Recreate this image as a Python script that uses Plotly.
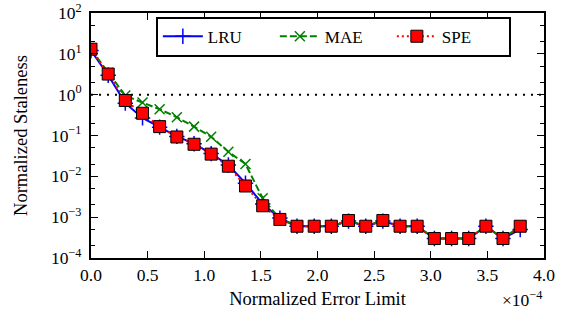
import plotly.graph_objects as go

# x in units of 1e-4
error_limit = [0.0, 0.152, 0.303, 0.455, 0.606, 0.758, 0.910, 1.061, 1.213, 1.364,
               1.516, 1.668, 1.819, 1.971, 2.122, 2.274, 2.426, 2.577, 2.729, 2.880,
               3.032, 3.184, 3.335, 3.487, 3.638, 3.790]

lru = [12, 3.0, 0.62, 0.27, 0.16, 0.095, 0.063, 0.036, 0.019, 0.0068,
       0.0021, 0.00095, 0.0006, 0.0006, 0.0006, 0.0008, 0.0006, 0.0008, 0.0006, 0.0006,
       0.0003, 0.0003, 0.0003, 0.0006, 0.0003, 0.0005]

mae = [13, 3.4, 0.95, 0.64, 0.44, 0.28, 0.165, 0.093, 0.040, 0.020,
       0.0029, 0.0009, 0.0006, 0.0006, 0.0006, 0.00083, 0.0006, 0.00083, 0.0006, 0.0006,
       0.0003, 0.0003, 0.0003, 0.0006, 0.0003, 0.0006]

spe = [13, 3.2, 0.72, 0.35, 0.165, 0.092, 0.061, 0.035, 0.0177, 0.0058,
       0.0019, 0.00088, 0.0006, 0.0006, 0.0006, 0.00083, 0.0006, 0.00083, 0.0006, 0.0006,
       0.0003, 0.0003, 0.0003, 0.0006, 0.0003, 0.0006]

x_ticks = [0.0, 0.5, 1.0, 1.5, 2.0, 2.5, 3.0, 3.5, 4.0]
x_tick_labels = ["0.0", "0.5", "1.0", "1.5", "2.0", "2.5", "3.0", "3.5", "4.0"]
y_ticks = [1e-4, 1e-3, 1e-2, 1e-1, 1e0, 1e1, 1e2]
y_tick_labels = ["10<sup>\u22124</sup>", "10<sup>\u22123</sup>", "10<sup>\u22122</sup>",
                 "10<sup>\u22121</sup>", "10<sup>0</sup>", "10<sup>1</sup>", "10<sup>2</sup>"]

FONT = "Liberation Serif, Times New Roman, serif"

fig = go.Figure()

# reference line at 1
fig.add_trace(go.Scatter(x=[0, 4], y=[1, 1], mode="lines",
                         line=dict(color="black", width=2, dash="2px,6px"),
                         showlegend=False, hoverinfo="skip"))

fig.add_trace(go.Scatter(x=error_limit, y=lru, name="LRU", mode="lines+markers",
                         line=dict(color="blue", width=2),
                         marker=dict(symbol="cross-thin-open", size=11,
                                     line=dict(color="blue", width=1.5))))
fig.add_trace(go.Scatter(x=error_limit, y=mae, name="MAE", mode="lines+markers",
                         line=dict(color="green", width=2, dash="7px,3px"),
                         marker=dict(symbol="x-thin-open", size=10,
                                     line=dict(color="green", width=1.5))))
fig.add_trace(go.Scatter(x=error_limit, y=spe, name="SPE", mode="lines+markers",
                         line=dict(color="red", width=2, dash="2px,3px"),
                         marker=dict(symbol="square", size=12, color="red",
                                     line=dict(color="black", width=1))))

fig.update_layout(
    width=569, height=320,
    margin=dict(l=91, r=25, t=13, b=62, autoexpand=False),
    paper_bgcolor="white", plot_bgcolor="white",
    font=dict(family=FONT, size=18, color="black"),
    legend=dict(orientation="h", x=0.535, xanchor="center", y=0.985, yanchor="top",
                bordercolor="black", borderwidth=2, bgcolor="white",
                font=dict(size=17), itemwidth=40, entrywidth=62,
                entrywidthmode="pixels", tracegroupgap=0),
    showlegend=True,
)

fig.update_xaxes(range=[0, 4], tickvals=x_ticks, ticktext=x_tick_labels,
                 ticks="inside", ticklen=7, tickwidth=1, tickcolor="black",
                 showline=True, linewidth=2, linecolor="black", mirror="allticks",
                 showgrid=False, zeroline=False, tickfont=dict(size=17.5),
                 automargin=False,
                 title=dict(text="Normalized Error Limit", standoff=8,
                            font=dict(size=18.5)))

fig.update_yaxes(type="log", range=[-4, 2], tickvals=y_ticks, ticktext=y_tick_labels,
                 ticks="inside", ticklen=7, tickwidth=1, tickcolor="black",
                 minor=dict(ticks="inside", ticklen=4, tickcolor="black", showgrid=False),
                 showline=True, linewidth=2, linecolor="black", mirror="allticks",
                 showgrid=False, zeroline=False, ticklabelstandoff=4,
                 tickfont=dict(size=17.5), automargin=False,
                 title=dict(text="Normalized Staleness", standoff=18,
                            font=dict(size=18.5)))

fig.add_annotation(x=1.0, xref="paper", xanchor="right", y=-0.167, yref="paper",
                   yanchor="middle", text="\u00d710<sup>\u22124</sup>", showarrow=False,
                   font=dict(size=17.5, family=FONT))

fig.write_html("out.html")
